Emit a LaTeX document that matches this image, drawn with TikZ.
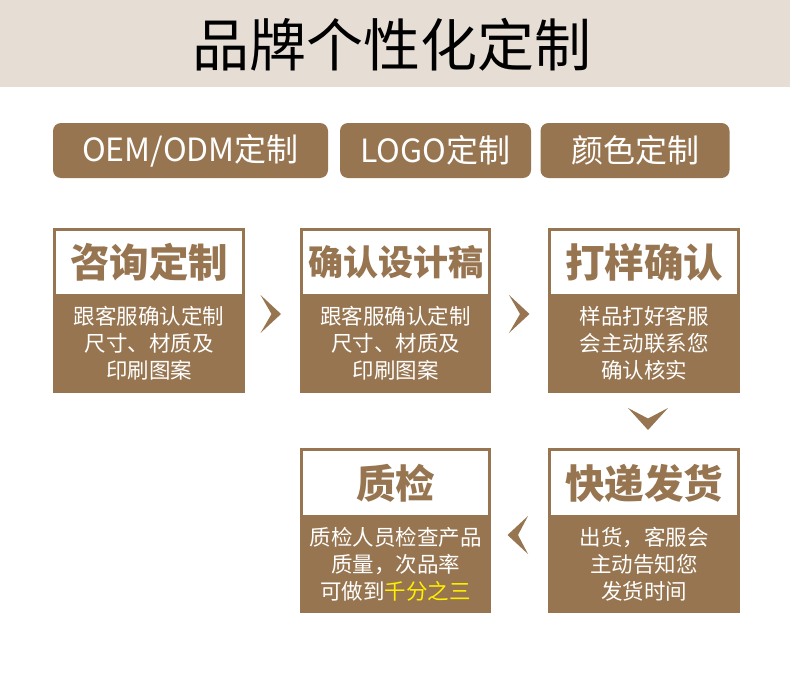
\documentclass[tikz,border=0pt]{standalone}
\usepackage{fontspec}
\setmainfont{Noto Sans CJK SC}
\definecolor{bandc}{HTML}{E6DED4}
\definecolor{brownc}{HTML}{977550}
\definecolor{yellc}{HTML}{FFF000}
\begin{document}
\begin{tikzpicture}[x=1pt,y=-1pt,
  btn/.style={fill=brownc,rounded corners=8pt,text=white,inner sep=0pt,
    font=\fontsize{32}{34}\selectfont},
  card/.style={fill=brownc,inner sep=0pt,minimum width=192pt,minimum height=165pt},
  head/.style={fill=white,inner sep=0pt,text=brownc,minimum width=186pt,
    font=\bfseries\fontsize{39.5}{42}\selectfont},
  body/.style={text=white,align=center,inner sep=0pt,
    font=\fontsize{21.5}{27}\selectfont},
  chev/.style={fill=brownc}]
\useasboundingbox (0,0) rectangle (790,685);
\fill[white] (0,0) rectangle (790,685);
\fill[bandc] (0,0) rectangle (790,87);
\node[font=\fontsize{57}{60}\selectfont,inner sep=0pt] (title) at (392,45) {品牌个性化定制};
% buttons
\node[btn,minimum width=275pt,minimum height=55pt] (b1) at (190.5,150.5) {OEM/ODM定制};
\node[btn,minimum width=191pt,minimum height=55pt] (b2) at (435.5,150.5) {LOGO定制};
\node[btn,minimum width=189pt,minimum height=55pt] (b3) at (635,150.5) {颜色定制};
% row 1
\node[card] (c1) at (149,310.5) {};
\node[head,minimum height=63pt] (c1h) at (149,262.5) {咨询定制};
\node[body] (c1t) at (149,343.5) {跟客服确认定制\\尺寸、材质及\\印刷图案};
\node[card,minimum width=191pt] (c2) at (395.5,310.5) {};
\node[head,minimum width=185pt,minimum height=63pt,font=\bfseries\fontsize{35}{40}\selectfont] (c2h) at (395.5,262.5) {确认设计稿};
\node[body] (c2t) at (395.5,343.5) {跟客服确认定制\\尺寸、材质及\\印刷图案};
\node[card] (c3) at (644,310.5) {};
\node[head,minimum height=63pt] (c3h) at (644,262.5) {打样确认};
\node[body] (c3t) at (644,343.5) {样品打好客服\\会主动联系您\\确认核实};
% row 2
\node[card,minimum width=191pt] (c4) at (395.5,530.5) {};
\node[head,minimum width=185pt,minimum height=64pt] (c4h) at (395.5,483) {质检};
\node[body] (c4t) at (395.5,564) {质检人员检查产品\\质量，次品率\\可做到\textcolor{yellc}{千分之三}};
\node[card] (c5) at (644,530.5) {};
\node[head,minimum height=64pt] (c5h) at (644,483) {快递发货};
\node[body] (c5t) at (644,564) {出货，客服会\\主动告知您\\发货时间};
% chevrons
\fill[chev] (260.5,295) -- (281,314) -- (260.5,333) -- (271.5,314) -- cycle;
\fill[chev] (509,295) -- (529.5,314) -- (509,333) -- (520,314) -- cycle;
\fill[chev] (628,408) -- (648,430) -- (668,408) -- (648,418.5) -- cycle;
\fill[chev] (528,516) -- (507.5,535) -- (528,554) -- (518,535) -- cycle;
\end{tikzpicture}
\end{document}
